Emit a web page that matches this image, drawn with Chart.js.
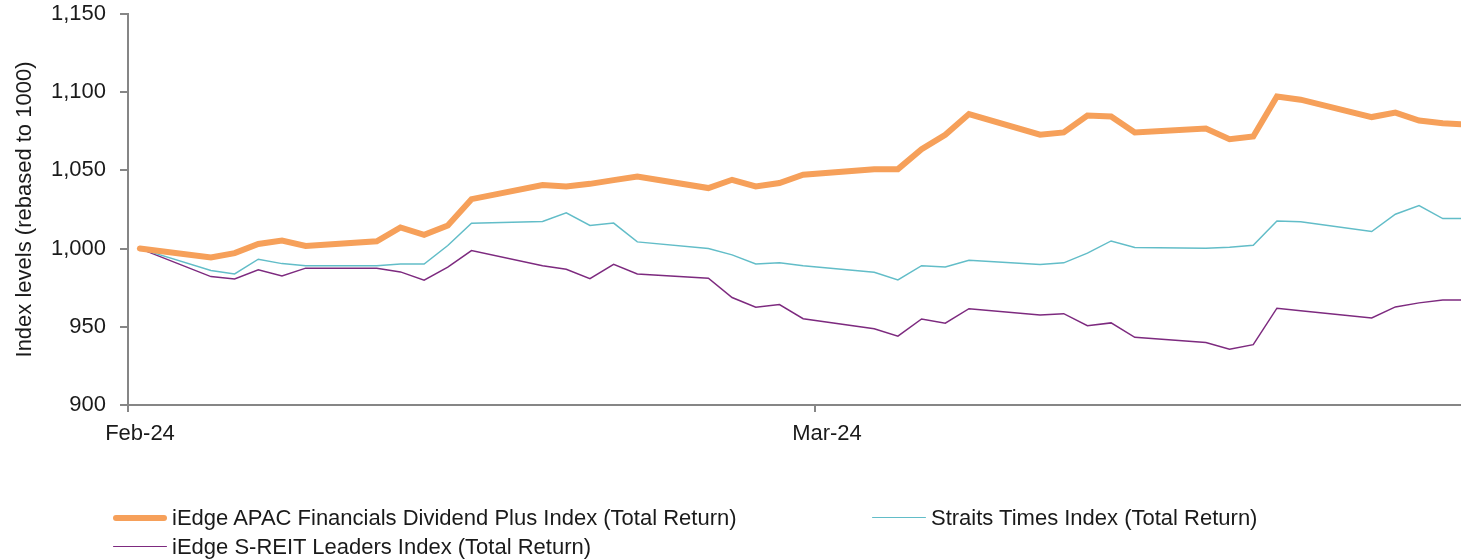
<!DOCTYPE html>
<html lang="en">
<head>
  <meta charset="UTF-8">
  <title>Index levels (rebased to 1000)</title>
  <script src="https://cdn.jsdelivr.net/npm/chart.js"></script>
  <style>
    body { margin: 0; background: #fff; font-family: "Liberation Sans", Arial, sans-serif; }
    .wrap { position: relative; width: 1461px; height: 559px; }
    #legend {
      position: absolute; left: 113px; top: 503px;
      display: grid; grid-template-columns: 759px auto; grid-auto-rows: 29px;
      font-size: 22px; color: #1a1a1a;
    }
    .item { display: flex; align-items: center; white-space: nowrap; }
    .swatch { display: inline-block; width: 54px; margin-right: 5px; border-radius: 3px; }
  </style>
</head>
<body>
  <div class="wrap">
    <canvas id="chart"></canvas>
    <div id="legend"></div>
  </div>

  <script>
    // trading days (daily closes), first one is the axis start
    const dates = [
      '2024-02-02', '2024-02-05', '2024-02-06', '2024-02-07', '2024-02-08', '2024-02-09',
      '2024-02-12', '2024-02-13', '2024-02-14', '2024-02-15', '2024-02-16',
      '2024-02-19', '2024-02-20', '2024-02-21', '2024-02-22', '2024-02-23',
      '2024-02-26', '2024-02-27', '2024-02-28', '2024-02-29', '2024-03-01',
      '2024-03-04', '2024-03-05', '2024-03-06', '2024-03-07', '2024-03-08',
      '2024-03-11', '2024-03-12', '2024-03-13', '2024-03-14', '2024-03-15',
      '2024-03-18', '2024-03-19', '2024-03-20', '2024-03-21', '2024-03-22',
      '2024-03-25', '2024-03-26', '2024-03-27', '2024-03-28', '2024-03-29'
    ];

    const afdp = [
      1000, 994.3, 997.1, 1003, 1005.1, 1001.7,
      1004.7, 1013.5, 1008.8, 1014.8, 1031.6,
      1040.6, 1039.7, 1041.4, 1043.8, 1046.1,
      1038.7, 1044, 1039.7, 1041.9, 1047.2,
      1050.8, 1050.8, 1063.5, 1072.8, 1086,
      1072.8, 1074.3, 1085.1, 1084.5, 1074.3,
      1076.8, 1070, 1071.7, 1097.3, 1095.2,
      1084.1, 1087, 1081.9, 1080.2, 1079.4
    ];

    const sti = [
      1000, 986, 983.8, 993.2, 990.4, 989,
      989, 990.1, 990.1, 1002, 1016.2,
      1017.3, 1022.9, 1014.8, 1016.3, 1004.3,
      1000, 996, 990.2, 990.9, 989,
      984.9, 980, 989.1, 988.3, 992.6,
      989.8, 990.9, 997.1, 1004.9, 1000.7,
      1000.2, 1000.9, 1002.2, 1017.7, 1017.1,
      1010.9, 1022, 1027.5, 1019.2, 1019.2
    ];

    const sreit = [
      1000, 982.1, 980.6, 986.4, 982.5, 987.5,
      987.5, 985.1, 979.8, 988.1, 998.7,
      989, 986.8, 980.8, 990, 983.8,
      981.1, 968.7, 962.5, 964.2, 955.2,
      948.8, 944, 955, 952.3, 961.6,
      957.6, 958.4, 950.7, 952.5, 943.3,
      939.9, 935.6, 938.6, 961.9, 960.2,
      955.7, 962.7, 965.3, 967.2, 967.2
    ];

    const seriesNames = [
      'iEdge APAC Financials Dividend Plus Index (Total Return)',
      'Straits Times Index (Total Return)',
      'iEdge S-REIT Leaders Index (Total Return)'
    ];
    const tickLabels = ['Feb-24', 'Mar-24'];

    const DAY = 86400000;
    const start = Date.parse(dates[0]);
    const dayNo = t => Math.round((t - start) / DAY);
    const toPoints = vals => dates.map((d, i) => ({ x: dayNo(Date.parse(d)), y: vals[i] }));

    // major unit = 1 month counted from the first date
    const monthTicks = tickLabels.map((_, m) => {
      const d = new Date(start);
      d.setUTCMonth(d.getUTCMonth() + m);
      return dayNo(d.getTime());
    });

    const axisGrey = '#868686';
    Chart.defaults.font.family = '"Liberation Sans", Arial, sans-serif';
    Chart.defaults.font.size = 22;
    Chart.defaults.color = '#1a1a1a';

    const chart = new Chart(document.getElementById('chart'), {
      type: 'line',
      data: {
        datasets: [
          { label: seriesNames[0], data: toPoints(afdp), borderColor: '#F6A05A', borderWidth: 6, borderCapStyle: 'round' },
          { label: seriesNames[1], data: toPoints(sti), borderColor: '#62BDC8', borderWidth: 1.5 },
          { label: seriesNames[2], data: toPoints(sreit), borderColor: '#7D2A7F', borderWidth: 1.5 }
        ]
      },
      options: {
        responsive: true,
        maintainAspectRatio: false,
        animation: false,
        layout: { padding: { top: 14, right: 0, bottom: 0, left: 0 } },
        plugins: { legend: { display: false }, tooltip: { enabled: false } },
        elements: { point: { radius: 0 }, line: { tension: 0 } },
        scales: {
          x: {
            type: 'linear',
            min: -0.5,
            max: 55.77,
            afterBuildTicks: s => { s.ticks = monthTicks.map(v => ({ value: v - 0.5 })); },
            afterFit: s => { s.height = 154; s.paddingLeft = 0; s.paddingRight = 0; },
            border: { color: axisGrey, width: 2 },
            grid: { drawOnChartArea: false, tickLength: 7, color: axisGrey, lineWidth: 2 },
            ticks: {
              autoSkip: false, maxRotation: 0, padding: 9, labelOffset: 12,
              callback: (v, i) => tickLabels[i]
            }
          },
          y: {
            min: 900,
            max: 1150,
            afterFit: s => { s.width = 128; s.paddingTop = 0; s.paddingBottom = 0; },
            border: { color: axisGrey, width: 2 },
            grid: { drawOnChartArea: false, tickLength: 8, color: axisGrey, lineWidth: 2 },
            ticks: { stepSize: 50, padding: 14, callback: v => v.toLocaleString('en-US') },
            title: { display: true, text: 'Index levels (rebased to 1000)', padding: { top: 12, bottom: 0 } }
          }
        }
      }
    });

    // legend laid out like the source: two columns, filled row by row
    const legend = document.getElementById('legend');
    chart.data.datasets.forEach(ds => {
      const item = document.createElement('div');
      item.className = 'item';
      const sw = document.createElement('span');
      sw.className = 'swatch';
      sw.style.height = ds.borderWidth + 'px';
      sw.style.background = ds.borderColor;
      item.append(sw, document.createTextNode(ds.label));
      legend.append(item);
    });
  </script>
</body>
</html>
